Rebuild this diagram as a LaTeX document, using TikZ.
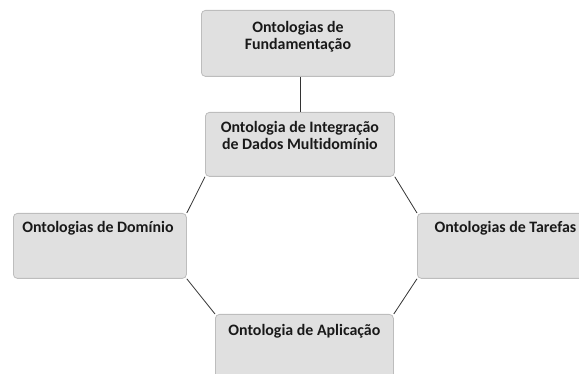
\documentclass[tikz,border=0pt]{standalone}
\usepackage{fontspec}
\setmainfont{Carlito}[Ligatures=NoCommon]
\begin{document}
\begin{tikzpicture}[x=1pt,y=-1pt,
  box/.style={draw=boxline, fill=boxfill, rounded corners=4pt, line width=0.8pt, inner sep=0pt, anchor=north west},
  lbl/.style={font=\fontsize{15.9}{17}\selectfont\bfseries, align=center, inner sep=0pt, anchor=north, text=black!90},
  link/.style={draw=black!80, line width=0.8pt}]
\definecolor{boxfill}{HTML}{E0E0E0}
\definecolor{boxline}{HTML}{BDBDBD}
\useasboundingbox (0,0) rectangle (579,374);
\clip (0,0) rectangle (579,374);
\node[box, minimum width=193pt, minimum height=66pt] (top) at (201,10) {};
\node[box, minimum width=189pt, minimum height=64pt] (mid) at (205,112) {};
\node[box, minimum width=173pt, minimum height=65pt] (left) at (13,213) {};
\node[box, minimum width=176pt, minimum height=65pt] (right) at (417,213) {};
\node[box, minimum width=178pt, minimum height=66pt] (bot) at (215,314) {};
\node[lbl] (ttop) at ([yshift=-11pt]top.north) {Ontologias de\\Fundamentação};
\node[lbl] (tmid) at ([yshift=-9pt]mid.north) {Ontologia de Integração\\de Dados Multidomínio};
\node[lbl] (tleft) at ([yshift=-8pt,xshift=-2pt]left.north) {Ontologias de Domínio};
\node[lbl] (tright) at ([yshift=-8pt]right.north) {Ontologias de Tarefas};
\node[lbl] (tbot) at ([yshift=-10pt]bot.north) {Ontologia de Aplicação};
\draw[link] (mid.north |- top.south) -- (mid.north);
\draw[link] (mid.south west) -- (left.north east);
\draw[link] (mid.south east) -- (right.north west);
\draw[link] (left.south east) -- (bot.north west);
\draw[link] (right.south west) -- (bot.north east);
\end{tikzpicture}
\end{document}
